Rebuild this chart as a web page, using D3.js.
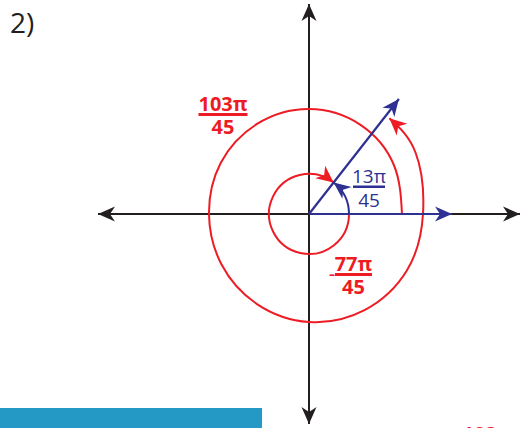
<!DOCTYPE html>
<html>
<head>
<meta charset="utf-8">
<script src="https://cdn.jsdelivr.net/npm/d3@7"></script>
<style>
    html, body { margin: 0; padding: 0; background: #fff; }
    svg { display: block; font-family: "Open Sans", "DejaVu Sans", sans-serif; }
</style>
</head>
<body>
<svg id="chart" width="525" height="428"></svg>
<script>

// angles in degrees, measured counterclockwise from the positive x axis
var terminalAngle = 52;                 // 13π/45
var positiveAngle = 412;                // 103π/45
var negativeAngle = -308;               // -77π/45

// axis extents (px from origin)
var axisExtent = {left: 211, right: 211, top: 210, bottom: 210};

// ray lengths
var initialRayLength = 143;
var terminalRayLength = 146;

// radius of the small arcs
var innerRadius = 40;

// outer spiral: [angle, radius]
var spiralPoints = [
    [0, 93], [30, 98], [60, 103], [90, 105], [120, 104], [150, 102],
    [180, 100], [210, 101], [240, 104], [270, 108], [300, 111],
    [330, 113], [360, 114], [390, 123], [410, 125]
];

// fraction labels: [numerator, denominator]
var labelPositive = ["103π", "45"];
var labelNegative = ["77π", "45"];
var labelTerminal = ["13π", "45"];

var problemLabel = "2)";
var nextProblemLabel = "103π";

var red = "#ed1c24", blue = "#2e3192", black = "#231f20", barBlue = "#2599c5";

var svg = d3.select("#chart");

var cx = 309, cy = 214;
var x = d3.scaleLinear().domain([-axisExtent.left, axisExtent.right]).range([cx - axisExtent.left, cx + axisExtent.right]);
var y = d3.scaleLinear().domain([-axisExtent.bottom, axisExtent.top]).range([cy + axisExtent.bottom, cy - axisExtent.top]);

var rad = d => d * Math.PI / 180;

function marker(id, color, len, half, notch) {
    svg.select("defs").append("marker")
        .attr("id", id)
        .attr("markerUnits", "userSpaceOnUse")
        .attr("viewBox", `${-len - 1} ${-half - 1} ${len + 2} ${half * 2 + 2}`)
        .attr("markerWidth", len + 2)
        .attr("markerHeight", half * 2 + 2)
        .attr("refX", 0)
        .attr("refY", 0)
        .attr("orient", "auto")
      .append("path")
        .attr("d", `M0,0 L${-len},${-half} L${-len + notch},0 L${-len},${half} Z`)
        .attr("fill", color);
}

svg.append("defs");
marker("arrow-black", black, 17, 7.5, 5);
marker("arrow-blue", blue, 17, 7.5, 5);
marker("arrow-red", red, 17, 8, 5);

// bottom bar and cut-off next problem
svg.append("rect")
    .attr("x", 0).attr("y", 408)
    .attr("width", 262).attr("height", 20)
    .attr("fill", barBlue);

svg.append("text")
    .attr("x", 487).attr("y", 441)
    .attr("text-anchor", "middle")
    .attr("font-size", 20).attr("font-weight", "bold")
    .attr("fill", red)
    .text(nextProblemLabel);

svg.append("text")
    .attr("x", 10).attr("y", 33)
    .attr("font-size", 28)
    .attr("fill", black)
    .text(problemLabel);

// axes
var axes = svg.append("g")
    .attr("stroke", black)
    .attr("stroke-width", 2)
    .attr("fill", "none");

axes.append("line")
    .attr("x1", x(0)).attr("y1", y(0))
    .attr("x2", x(axisExtent.right)).attr("y2", y(0))
    .attr("marker-end", "url(#arrow-black)");
axes.append("line")
    .attr("x1", x(0)).attr("y1", y(0))
    .attr("x2", x(-axisExtent.left)).attr("y2", y(0))
    .attr("marker-end", "url(#arrow-black)");
axes.append("line")
    .attr("x1", x(0)).attr("y1", y(0))
    .attr("x2", x(0)).attr("y2", y(axisExtent.top))
    .attr("marker-end", "url(#arrow-black)");
axes.append("line")
    .attr("x1", x(0)).attr("y1", y(0))
    .attr("x2", x(0)).attr("y2", y(-axisExtent.bottom))
    .attr("marker-end", "url(#arrow-black)");

// outer spiral, 103π/45
var spiral = d3.line()
    .x(d => x(d[1] * Math.cos(rad(d[0]))))
    .y(d => y(d[1] * Math.sin(rad(d[0]))))
    .curve(d3.curveNatural);

svg.append("path")
    .attr("d", spiral(spiralPoints))
    .attr("fill", "none")
    .attr("stroke", red)
    .attr("stroke-width", 2)
    .attr("marker-end", "url(#arrow-red)");

// inner circle, -77π/45 (clockwise)
var inner = d3.path();
inner.moveTo(x(innerRadius), y(0));
inner.arc(x(0), y(0), x(innerRadius) - x(0), 0, -rad(negativeAngle), false);

svg.append("path")
    .attr("d", inner.toString())
    .attr("fill", "none")
    .attr("stroke", red)
    .attr("stroke-width", 2)
    .attr("marker-end", "url(#arrow-red)");

// rays
var rays = svg.append("g")
    .attr("stroke", blue)
    .attr("stroke-width", 2.2);

rays.append("line")
    .attr("x1", x(0)).attr("y1", y(0))
    .attr("x2", x(initialRayLength)).attr("y2", y(0))
    .attr("marker-end", "url(#arrow-blue)");
rays.append("line")
    .attr("x1", x(0)).attr("y1", y(0))
    .attr("x2", x(terminalRayLength * Math.cos(rad(terminalAngle))))
    .attr("y2", y(terminalRayLength * Math.sin(rad(terminalAngle))))
    .attr("marker-end", "url(#arrow-blue)");

// small blue arc, 13π/45
var small = d3.path();
small.moveTo(x(innerRadius), y(0));
small.arc(x(0), y(0), x(innerRadius) - x(0), 0, -rad(terminalAngle), true);

svg.append("path")
    .attr("d", small.toString())
    .attr("fill", "none")
    .attr("stroke", blue)
    .attr("stroke-width", 2)
    .attr("marker-end", "url(#arrow-blue)");

// fraction labels
function fraction(label, px, numY, barY, denY, barW, barH, color, size, weight) {
    var g = svg.append("g").attr("fill", color).attr("font-size", size).attr("font-weight", weight)
        .attr("text-anchor", "middle");
    g.append("text").attr("x", px).attr("y", numY).text(label[0]);
    g.append("rect").attr("x", px - barW / 2).attr("y", barY).attr("width", barW).attr("height", barH);
    g.append("text").attr("x", px).attr("y", denY).text(label[1]);
    return g;
}

fraction(labelPositive, 223, 111, 113, 134, 49, 3, red, 20, "bold");
fraction(labelNegative, 353.5, 271, 273, 294, 37, 3, red, 20, "bold");
fraction(labelTerminal, 369, 183, 185.5, 207, 32, 2.5, blue, 19, "normal");

// minus sign in front of -77π/45
svg.append("text")
    .attr("x", 335.5)
    .attr("y", 280.5)
    .attr("text-anchor", "end")
    .attr("font-family", "Liberation Sans, Arial, sans-serif")
    .attr("font-size", 20)
    .attr("fill", red)
    .text("-");

</script>
</body>
</html>
